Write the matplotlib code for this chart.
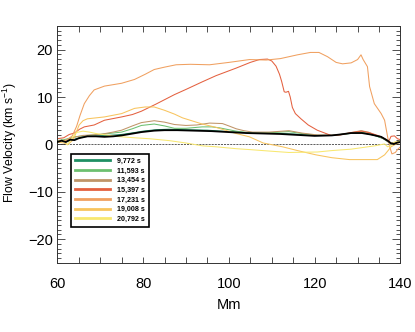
import numpy as np
import matplotlib
matplotlib.use("Agg")
import matplotlib.pyplot as plt
from matplotlib.lines import Line2D

plt.rcParams['font.family'] = ['Liberation Sans', 'DejaVu Sans']

# legend labels (time, s)
labels = ['9,772 s', '11,593 s', '13,454 s', '15,397 s', '17,231 s', '19,008 s', '20,792 s']
colors = ['#1f8f63', '#6cc070', '#c09468', '#e4603f', '#f0a060', '#f8c45e', '#f8e870']

# mean flow (thick black)
x_mean = [60, 61, 62, 63, 64, 65, 67, 69, 71, 73, 75, 77, 79.6, 82.6, 85, 88, 92, 96, 100, 104, 108,
          112, 116, 120, 124, 126, 128.5, 131, 133, 135.5, 137, 137.8, 138.5, 139.3, 140]
v_mean = [0.5, 0.8, 0.5, 1.0, 0.9, 1.3, 1.7, 1.7, 1.6, 1.7, 1.9, 2.2, 2.6, 2.9, 3.0, 3.0, 2.9, 2.8, 2.6, 2.4, 2.3,
          2.2, 2.0, 1.8, 1.9, 2.1, 2.4, 2.4, 2.1, 1.6, 0.8, 0.2, 0.1, 0.4, 0.5]

x_s1 = [60, 62, 64, 66, 69, 72, 75, 78, 80, 83, 86, 90, 95, 100, 105, 110, 115, 120, 124, 128, 131, 134, 136, 137.5, 139, 140]
v_s1 = [0.6, 0.6, 1.1, 1.6, 1.8, 1.9, 2.1, 2.5, 2.8, 3.1, 3.2, 3.1, 3.0, 2.7, 2.5, 2.4, 2.2, 1.9, 1.9, 2.3, 2.5, 1.9, 1.2, 0.3, 0.3, 0.5]

x_s2 = [60, 62, 64, 66, 68.6, 72, 75, 77.5, 79.6, 82.6, 85, 87.3, 90, 93.8, 96, 97.8, 100, 101.7, 104, 106.3,
        110, 114, 117, 120.6, 124.5, 128, 130.8, 132.5, 134, 136, 137, 137.8, 139, 140]
v_s2 = [0.8, 1.1, 1.6, 1.8, 2.0, 2.3, 2.6, 3.3, 4.0, 4.3, 3.9, 3.4, 3.4, 3.7, 3.7, 3.5, 3.1, 2.8, 2.5, 2.4,
        2.5, 2.7, 2.3, 1.9, 1.9, 2.3, 2.6, 2.3, 1.9, 1.3, 0.8, 0.2, 0.4, 0.7]

x_s3 = [60, 62, 64, 66, 70, 73, 75, 77.5, 79.6, 82.6, 85, 87.3, 90, 92.5, 95.5, 98.5, 100, 101.7, 103.5, 105.5,
        109.4, 114, 117, 120.6, 124.5, 128, 130.8, 132.5, 134, 136, 137, 138, 140]
v_s3 = [0.7, 0.9, 1.5, 1.9, 2.1, 2.6, 3.0, 3.9, 4.6, 5.0, 4.7, 4.2, 4.0, 4.1, 4.5, 4.4, 3.9, 3.3, 2.9, 2.6,
        2.6, 2.9, 2.4, 2.0, 1.9, 2.4, 2.9, 2.6, 2.0, 1.3, 0.7, 0.3, 0.6]

x_s4 = [60, 61.5, 62.8, 64, 65.2, 66.3, 68.6, 71, 75, 77.5, 79.6, 83, 87.3, 90, 93.8, 97, 101.7, 105, 107.1, 109,
        110, 111, 111.8, 112.3, 112.9, 113.3, 113.9, 114.3, 114.8, 115.5, 116.8, 118.5, 120.6, 123.8, 126, 128.5,
        131, 133, 135, 136.5, 137.2, 137.8, 138.6, 139.3, 140]
v_s4 = [1.2, 1.4, 2.1, 2.4, 3.2, 3.7, 4.1, 5.1, 5.8, 6.3, 7.0, 8.5, 10.5, 11.6, 13.2, 14.5, 16.1, 17.3, 17.9, 18.0,
        17.6, 16.5, 14.8, 13.3, 11.1, 11.0, 11.2, 10.0, 7.8, 6.5, 5.4, 4.1, 3.0, 1.9, 2.0, 2.5,
        2.8, 2.4, 1.8, 1.1, 0.5, 1.7, 1.8, 1.2, 1.0]

x_s5 = [60, 62, 63.5, 64.5, 65.3, 66.3, 67.5, 68.6, 71, 73, 75, 78, 80.5, 82.6, 85, 87.7, 91, 95.5, 100, 104.8,
        108.7, 112, 116, 119, 121, 123, 125, 126.5, 128.5, 130, 130.8, 131.3, 132.3, 132.8, 133.9, 135.5, 136.3,
        137, 137.5, 138, 138.8, 139.5, 140]
v_s5 = [0.6, 0.8, 1.8, 3.8, 6.1, 8.6, 10.3, 11.5, 12.3, 12.6, 12.9, 13.7, 14.8, 15.8, 16.3, 16.8, 16.9, 16.8, 17.3, 17.9,
        17.8, 18.1, 18.9, 19.4, 19.4, 18.5, 17.3, 17.0, 17.2, 17.9, 18.9, 17.9, 16.4, 12.2, 8.6, 6.5, 5.1,
        1.6, -0.5, -2.0, -1.7, -0.9, -0.5]

x_s6 = [60, 61.5, 62.5, 63.5, 64, 65.1, 66, 67, 69, 71, 75, 78, 80.5, 82.6, 85, 87.3, 89.2, 93.8, 97, 101.7,
        104.8, 108, 112.5, 116, 120.3, 124, 128.1, 134.6, 136.3, 137.2, 137.8, 139, 140]
v_s6 = [0.5, 0.3, 0.0, 0.8, 1.6, 4.1, 5.0, 5.4, 5.6, 5.8, 6.5, 7.6, 7.9, 7.9, 7.2, 6.4, 5.6, 4.3, 3.6, 2.3,
        1.6, 0.3, -0.5, -1.3, -2.2, -2.8, -3.2, -3.2, -2.2, -1.2, -0.5, 0.1, 0.5]

x_s7 = [60, 61.5, 62.4, 63.2, 64.4, 66, 67.5, 69, 73.7, 78, 81.5, 86.1, 90, 93.8, 97, 101.7, 105, 109.4, 114,
        120.6, 124, 128.5, 134, 136.3, 137, 137.8, 138.6, 140]
v_s7 = [0.6, 0.9, -0.1, 1.1, 2.5, 2.8, 2.6, 2.3, 1.7, 1.4, 1.2, 0.8, 0.3, -0.3, -0.5, -0.9, -1.1, -1.4, -1.7,
        -1.6, -1.3, -1.0, -0.3, 0.1, -0.5, -0.2, 0.5, 0.7]

series_x = [x_s1, x_s2, x_s3, x_s4, x_s5, x_s6, x_s7]
series_v = [v_s1, v_s2, v_s3, v_s4, v_s5, v_s6, v_s7]

fig = plt.figure(figsize=(4.15, 3.32), dpi=100)
ax = fig.add_axes([0.138, 0.208, 0.827, 0.714])

ax.axhline(0, color='#444444', lw=0.6, ls=(0, (2.5, 1.2)), zorder=1)

for xs, vs, c in zip(series_x, series_v, colors):
    ax.plot(xs, vs, color=c, lw=0.75, zorder=2)
ax.plot(x_mean, v_mean, color='black', lw=1.3, zorder=3)

ax.set_xlim(60, 140)
ax.set_ylim(-25, 25)
ax.set_xticks([60, 80, 100, 120, 140])
ax.set_xticks(np.arange(60, 141, 5), minor=True)
ax.set_yticks([-20, -10, 0, 10, 20])
ax.set_yticks(np.arange(-25, 26, 1), minor=True)
ax.tick_params(which='both', direction='in', top=True, right=True, width=0.6, colors='#333333',
               labelcolor='black', labelsize=10.5)
ax.tick_params(axis='y', which='major', length=6, pad=3)
ax.tick_params(axis='y', which='minor', length=3)
ax.tick_params(axis='x', which='both', length=4, pad=10)
for s in ax.spines.values():
    s.set_linewidth(0.7)
    s.set_color('#333333')

ax.set_xlabel('Mm', fontsize=10.5)
ax.xaxis.set_label_coords(0.5, -0.148)
ax.set_ylabel('Flow Velocity (km s$^{\\mathregular{-1}}$)', fontsize=8.8)
ax.yaxis.set_label_coords(-0.112, 0.51)

handles = [Line2D([], [], color=c, lw=2) for c in colors]
leg = ax.legend(handles, labels, loc='upper left', bbox_to_anchor=(0.04, 0.46),
                handlelength=5.0, labelspacing=0.38, borderpad=0.55, handletextpad=1.0,
                borderaxespad=0, fancybox=False, framealpha=1, edgecolor='black',
                prop={'weight': 'bold', 'size': 5.1})
leg.get_frame().set_linewidth(1.2)

fig.savefig('out.png', dpi=100)
